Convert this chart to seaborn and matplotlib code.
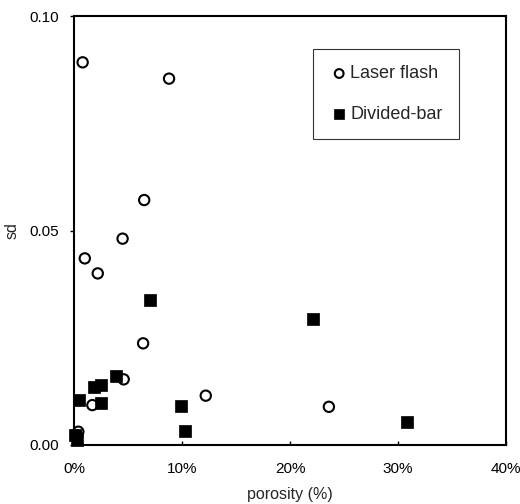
import matplotlib
matplotlib.use("Agg")
import matplotlib.pyplot as plt
import seaborn as sns
import pandas as pd
from matplotlib.ticker import FuncFormatter, FixedLocator

sns.set_theme(style="white")
plt.rcParams['font.family'] = ['Liberation Sans', 'DejaVu Sans']

laser_porosity = [0.8, 8.8, 6.5, 4.5, 1.0, 2.2, 6.4, 4.6, 1.7, 12.2, 0.4, 0.3, 23.6]
laser_sd = [0.0892, 0.0854, 0.0571, 0.0481, 0.0435, 0.0400, 0.0237, 0.0153, 0.0093, 0.0115, 0.0031, 0.0022, 0.0089]

bar_porosity = [7.0, 3.9, 1.85, 2.5, 0.5, 2.5, 9.9, 10.3, 0.1, 0.3, 22.1, 30.8]
bar_sd = [0.0338, 0.0161, 0.0136, 0.0140, 0.0105, 0.0099, 0.0092, 0.0033, 0.0023, 0.0012, 0.0294, 0.0054]

x_ticks = [0, 10, 20, 30, 40]
y_ticks = [0.00, 0.05, 0.10]

df_laser = pd.DataFrame({"porosity": laser_porosity, "sd": laser_sd})
df_bar = pd.DataFrame({"porosity": bar_porosity, "sd": bar_sd})

fig = plt.figure(figsize=(5.2, 5.04), dpi=100)
ax = fig.add_axes([74/520, (504-445)/504, (506-74)/520, (445-16)/504])

sns.scatterplot(data=df_laser, x="porosity", y="sd", ax=ax, marker="o", s=55,
                facecolors="none", edgecolor="black", linewidth=1.5,
                label="Laser flash", clip_on=False, zorder=3)
sns.scatterplot(data=df_bar, x="porosity", y="sd", ax=ax, marker="s", s=75,
                color="black", edgecolor="black", linewidth=0.5,
                label="Divided-bar", clip_on=False, zorder=3)

ax.set_xlim(0, 40)
ax.set_ylim(0, 0.10)
ax.xaxis.set_major_locator(FixedLocator(x_ticks))
ax.yaxis.set_major_locator(FixedLocator(y_ticks))
ax.xaxis.set_major_formatter(FuncFormatter(lambda v, p: f"{v:.0f}%"))
ax.yaxis.set_major_formatter(FuncFormatter(lambda v, p: f"{v:.2f}"))
ax.tick_params(axis="x", direction="in", length=3, width=1, colors="black",
               labelsize=11, pad=12, bottom=True)
ax.tick_params(axis="y", direction="out", length=3, width=1, colors="black",
               labelsize=11, pad=8, left=True)

for s in ax.spines.values():
    s.set_visible(True)
    s.set_color("black")
    s.set_linewidth(1.5)

ax.set_xlabel("porosity (%)", fontsize=11.5, labelpad=8)
ax.set_ylabel("sd", fontsize=11.5, labelpad=7)

leg = ax.legend(loc="upper left", bbox_to_anchor=((313-74)/432, (445-49)/429),
                frameon=True, fancybox=False, edgecolor="black", fontsize=13,
                handletextpad=0.05, borderpad=0.9, labelspacing=1.3,
                handlelength=1.1, borderaxespad=0, markerscale=0.85)
leg.get_frame().set_linewidth(0.8)

fig.savefig("out.png", dpi=100)
